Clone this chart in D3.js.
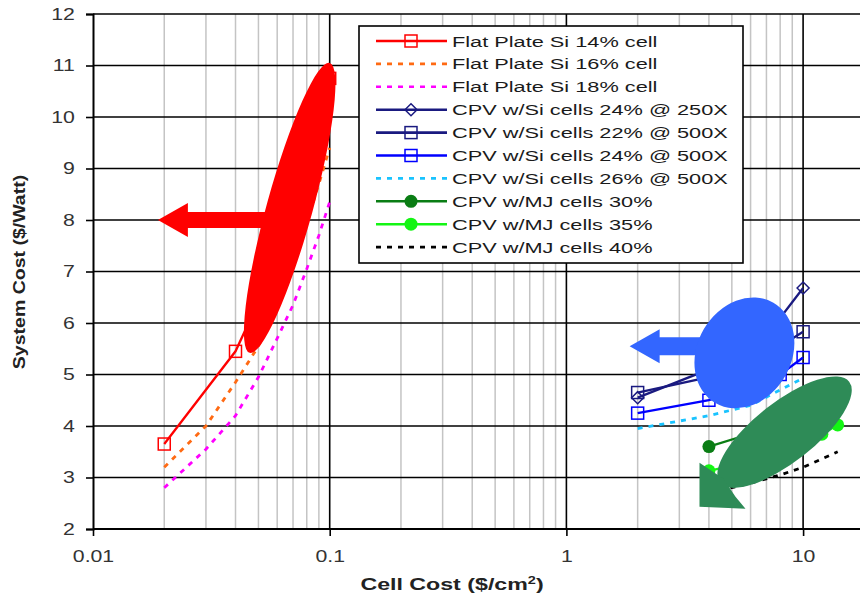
<!DOCTYPE html>
<html>
<head>
<meta charset="utf-8">
<script src="https://cdnjs.cloudflare.com/ajax/libs/d3/7.8.5/d3.min.js"></script>
<style>
  body { margin: 0; background: #fff; }
  svg { display: block; font-family: "Liberation Sans", Arial, sans-serif; }
</style>
</head>
<body>
<svg id="chart" width="860" height="598"></svg>
<script>
// ---- data ----
const yTicks = [2, 3, 4, 5, 6, 7, 8, 9, 10, 11, 12];
const xTicks = [0.01, 0.1, 1, 10];
const xTickLabels = ["0.01", "0.1", "1", "10"];

// flat plate Si
const fpX14 = [0.02, 0.04, 0.06, 0.08, 0.1];
const fpY14 = [3.65, 5.45, 7.2, 9.0, 10.75];
const fpX = [0.02, 0.03, 0.04, 0.05, 0.06, 0.07, 0.08, 0.09, 0.1];
const fpY16 = [3.2, 4.0, 4.85, 5.55, 6.35, 7.15, 7.95, 8.7, 9.4];
const fpY18 = [2.8, 3.55, 4.2, 4.95, 5.7, 6.35, 7.05, 7.7, 8.35];

// CPV with Si cells
const siX = [2, 4, 6, 8, 10];
const si24at250 = [4.55, 5.1, 5.6, 6.1, 6.68];
const si22at500 = [4.65, 4.95, 5.25, 5.55, 5.83];
const si24at500 = [4.25, 4.5, 4.75, 5.0, 5.33];
const si26at500 = [3.95, 4.2, 4.4, 4.7, 4.93];

// CPV with multi-junction cells
const mjX = [4, 6, 8, 10, 12, 14];
const mj30 = [3.6, 3.85, 4.1, 4.35, 4.6];
const mj35 = [3.13, 3.31, 3.49, 3.66, 3.84, 4.02];
const mj40 = [2.7, 2.89, 3.05, 3.2, 3.36, 3.5];

const seriesNames = [
  "Flat Plate Si 14% cell", "Flat Plate Si 16% cell", "Flat Plate Si 18% cell",
  "CPV w/Si cells 24% @ 250X", "CPV w/Si cells 22% @ 500X", "CPV w/Si cells 24% @ 500X",
  "CPV w/Si cells 26% @ 500X", "CPV w/MJ cells 30%", "CPV w/MJ cells 35%", "CPV w/MJ cells 40%"
];

// annotation anchors (data units)
const redBlob = [[0.0459, 5.42], [0.1, 11.05]];
const redArrow = [[0.0558, 8.0], [0.0188, 8.0]];
const blueBlob = [5.65, 5.42];
const blueArrow = [[4.0, 5.55], [1.85, 5.55]];
const greenBlob = [8.35, 3.88];
const greenTip = [3.65, 2.43];

// ---- drawing ----
const svg = d3.select("#chart");
const width = 860, height = 598;
const plotLeft = 93, plotTop = 14, plotBottom = 529, decade = 236.7;

const x = d3.scaleLog().domain([0.01, 100]).range([plotLeft, plotLeft + 4 * decade]);
const y = d3.scaleLinear().domain([2, 12]).range([plotBottom, plotTop]);

svg.append("rect").attr("width", width).attr("height", height).attr("fill", "#fff");

//vertical grid, minor grey then decades black
const grid = svg.append("g");
const allX = x.ticks().filter(d => x(d) <= width && d > 0.01);
grid.selectAll("line.minor")
  .data(allX.filter(d => !xTicks.includes(+d.toPrecision(3))))
  .enter().append("line")
  .attr("x1", d => x(d)).attr("x2", d => x(d))
  .attr("y1", plotTop).attr("y2", plotBottom)
  .attr("stroke", "#c4c4c4").attr("stroke-width", 1.5);
grid.selectAll("line.hz")
  .data(yTicks.filter(d => d > 2))
  .enter().append("line")
  .attr("x1", plotLeft).attr("x2", width)
  .attr("y1", d => y(d)).attr("y2", d => y(d))
  .attr("stroke", "#000").attr("stroke-width", 1.6);
grid.selectAll("line.major")
  .data(xTicks.slice(1))
  .enter().append("line")
  .attr("x1", d => x(d)).attr("x2", d => x(d))
  .attr("y1", plotTop).attr("y2", plotBottom)
  .attr("stroke", "#000").attr("stroke-width", 1.6);

// axes
const yAxis = svg.append("g")
  .attr("transform", `translate(${plotLeft},0)`)
  .call(d3.axisLeft(y).tickValues(yTicks).tickSize(7).tickPadding(7.5).tickFormat(d3.format("d")));
const xAxis = svg.append("g")
  .attr("transform", `translate(0,${plotBottom})`)
  .call(d3.axisBottom(x).tickValues(xTicks).tickSize(7).tickPadding(14)
    .tickFormat((d, i) => xTickLabels[i]));
xAxis.select(".domain").attr("d", `M${plotLeft},0H${width}`);
[xAxis, yAxis].forEach(a => {
  a.select(".domain").attr("stroke", "#000").attr("stroke-width", 2);
  a.selectAll(".tick line").attr("stroke", "#000").attr("stroke-width", 1.6);
  a.selectAll(".tick text")
    .attr("fill", "#333")
    .attr("transform", "scale(1.25,1)")
    .style("font-size", "17px")
    .style("font-family", "'Liberation Sans', Arial, sans-serif");
});

// axis titles
svg.append("text")
  .attr("transform", `translate(452,590) scale(1.45,1)`)
  .attr("text-anchor", "middle")
  .style("font-size", "16px").style("font-weight", "bold").attr("fill", "#222")
  .text("Cell Cost ($/cm")
  .call(t => t.append("tspan").attr("dy", -6).style("font-size", "10px").text("2"))
  .call(t => t.append("tspan").attr("dy", 6).text(")"));
svg.append("text")
  .attr("transform", `translate(25,272) rotate(-90) scale(1.22,1)`)
  .attr("text-anchor", "middle")
  .style("font-size", "16px").style("font-weight", "bold").attr("fill", "#222")
  .text("System Cost ($/Watt)");

// series
const series = [
  { xs: fpX14, ys: fpY14, color: "#ff0000", dash: null, marker: "square" },
  { xs: fpX, ys: fpY16, color: "#ff6a13", dash: "5,6", marker: null },
  { xs: fpX, ys: fpY18, color: "#ff00ff", dash: "5,6", marker: null },
  { xs: siX, ys: si24at250, color: "#1a1a80", dash: null, marker: "diamond" },
  { xs: siX, ys: si22at500, color: "#1a1a80", dash: null, marker: "square" },
  { xs: siX, ys: si24at500, color: "#0000ff", dash: null, marker: "square" },
  { xs: siX, ys: si26at500, color: "#19c3ff", dash: "5,6", marker: null },
  { xs: mjX, ys: mj30, color: "#0a7d14", dash: null, marker: "circle" },
  { xs: mjX, ys: mj35, color: "#14f514", dash: null, marker: "circle" },
  { xs: mjX, ys: mj40, color: "#000", dash: "5,6", marker: null }
];

const line = d3.line().x(d => x(d[0])).y(d => y(d[1]));

function drawMarker(g, type, cx, cy, color) {
  if (type === "square") {
    g.append("rect").attr("x", cx - 6).attr("y", cy - 6).attr("width", 12).attr("height", 12)
      .attr("fill", "none").attr("stroke", color).attr("stroke-width", 1.5);
  } else if (type === "diamond") {
    g.append("path").attr("d", `M${cx},${cy - 6}L${cx + 6},${cy}L${cx},${cy + 6}L${cx - 6},${cy}Z`)
      .attr("fill", "none").attr("stroke", color).attr("stroke-width", 1.5);
  } else if (type === "circle") {
    g.append("circle").attr("cx", cx).attr("cy", cy).attr("r", 6.5).attr("fill", color);
  }
}

const plot = svg.append("g");
series.forEach(s => {
  const pts = s.ys.map((v, i) => [s.xs[i], v]);
  plot.append("path")
    .datum(pts)
    .attr("fill", "none")
    .attr("stroke", s.color)
    .attr("stroke-width", s.dash ? 2.8 : 2.3)
    .attr("stroke-dasharray", s.dash)
    .attr("d", line);
  pts.forEach(p => drawMarker(plot, s.marker, x(p[0]), y(p[1]), s.color));
});

// legend
const lg = svg.append("g");
lg.append("rect").attr("x", 359).attr("y", 26).attr("width", 384).attr("height", 237)
  .attr("fill", "#fff").attr("stroke", "#000").attr("stroke-width", 1.6);
series.forEach((s, i) => {
  const ry = 41 + i * 22.9;
  lg.append("line").attr("x1", 376).attr("x2", 447).attr("y1", ry).attr("y2", ry)
    .attr("stroke", s.color).attr("stroke-width", 2.6).attr("stroke-dasharray", s.dash);
  drawMarker(lg, s.marker, 411, ry, s.color);
  lg.append("text")
    .attr("transform", `translate(452,${ry + 5.5}) scale(1.45,1)`)
    .style("font-size", "15px").attr("fill", "#1a1a1a")
    .text(seriesNames[i]);
});

// annotation shapes
const ann = svg.append("g");
function blob(p0, p1, halfWidth, color) {
  const x0 = x(p0[0]), y0 = y(p0[1]), x1 = x(p1[0]), y1 = y(p1[1]);
  const cx = (x0 + x1) / 2, cy = (y0 + y1) / 2;
  const len = Math.hypot(x1 - x0, y1 - y0) / 2;
  const ang = Math.atan2(y1 - y0, x1 - x0) * 180 / Math.PI;
  ann.append("ellipse").attr("cx", cx).attr("cy", cy).attr("rx", len).attr("ry", halfWidth)
    .attr("transform", `rotate(${ang},${cx},${cy})`).attr("fill", color);
}
function arrow(from, to, shaft, head, headLen, color) {
  const x0 = x(from[0]), y0 = y(from[1]), x1 = x(to[0]), y1 = y(to[1]);
  const ang = Math.atan2(y1 - y0, x1 - x0) * 180 / Math.PI;
  const L = Math.hypot(x1 - x0, y1 - y0);
  ann.append("path")
    .attr("d", `M0,${-shaft / 2}L${L - headLen},${-shaft / 2}L${L - headLen},${-head / 2}L${L},0` +
      `L${L - headLen},${head / 2}L${L - headLen},${shaft / 2}L0,${shaft / 2}Z`)
    .attr("transform", `translate(${x0},${y0}) rotate(${ang})`)
    .attr("fill", color);
}

arrow(redArrow[0], redArrow[1], 16, 34, 30, "#ff0000");
blob(redBlob[0], redBlob[1], 23, "#ff0000");

arrow(blueArrow[0], blueArrow[1], 18, 34, 30, "#3366ff");
ann.append("ellipse")
  .attr("cx", x(blueBlob[0])).attr("cy", y(blueBlob[1]))
  .attr("rx", 47).attr("ry", 58)
  .attr("transform", `rotate(30,${x(blueBlob[0])},${y(blueBlob[1])})`)
  .attr("fill", "#3366ff");

const gcx = x(greenBlob[0]), gcy = y(greenBlob[1]);
ann.append("ellipse").attr("cx", gcx).attr("cy", gcy).attr("rx", 82).attr("ry", 30)
  .attr("transform", `rotate(-38,${gcx},${gcy})`).attr("fill", "#2e8b57");
const tx = x(greenTip[0]), ty = y(greenTip[1]);
ann.append("path")
  .attr("d", `M${tx},${ty}L${tx},${ty - 44}L${tx + 24},${ty - 28}L${tx + 36},${ty - 10}L${tx + 46},${ty + 2}Z`)
  .attr("fill", "#2e8b57");
</script>
</body>
</html>
